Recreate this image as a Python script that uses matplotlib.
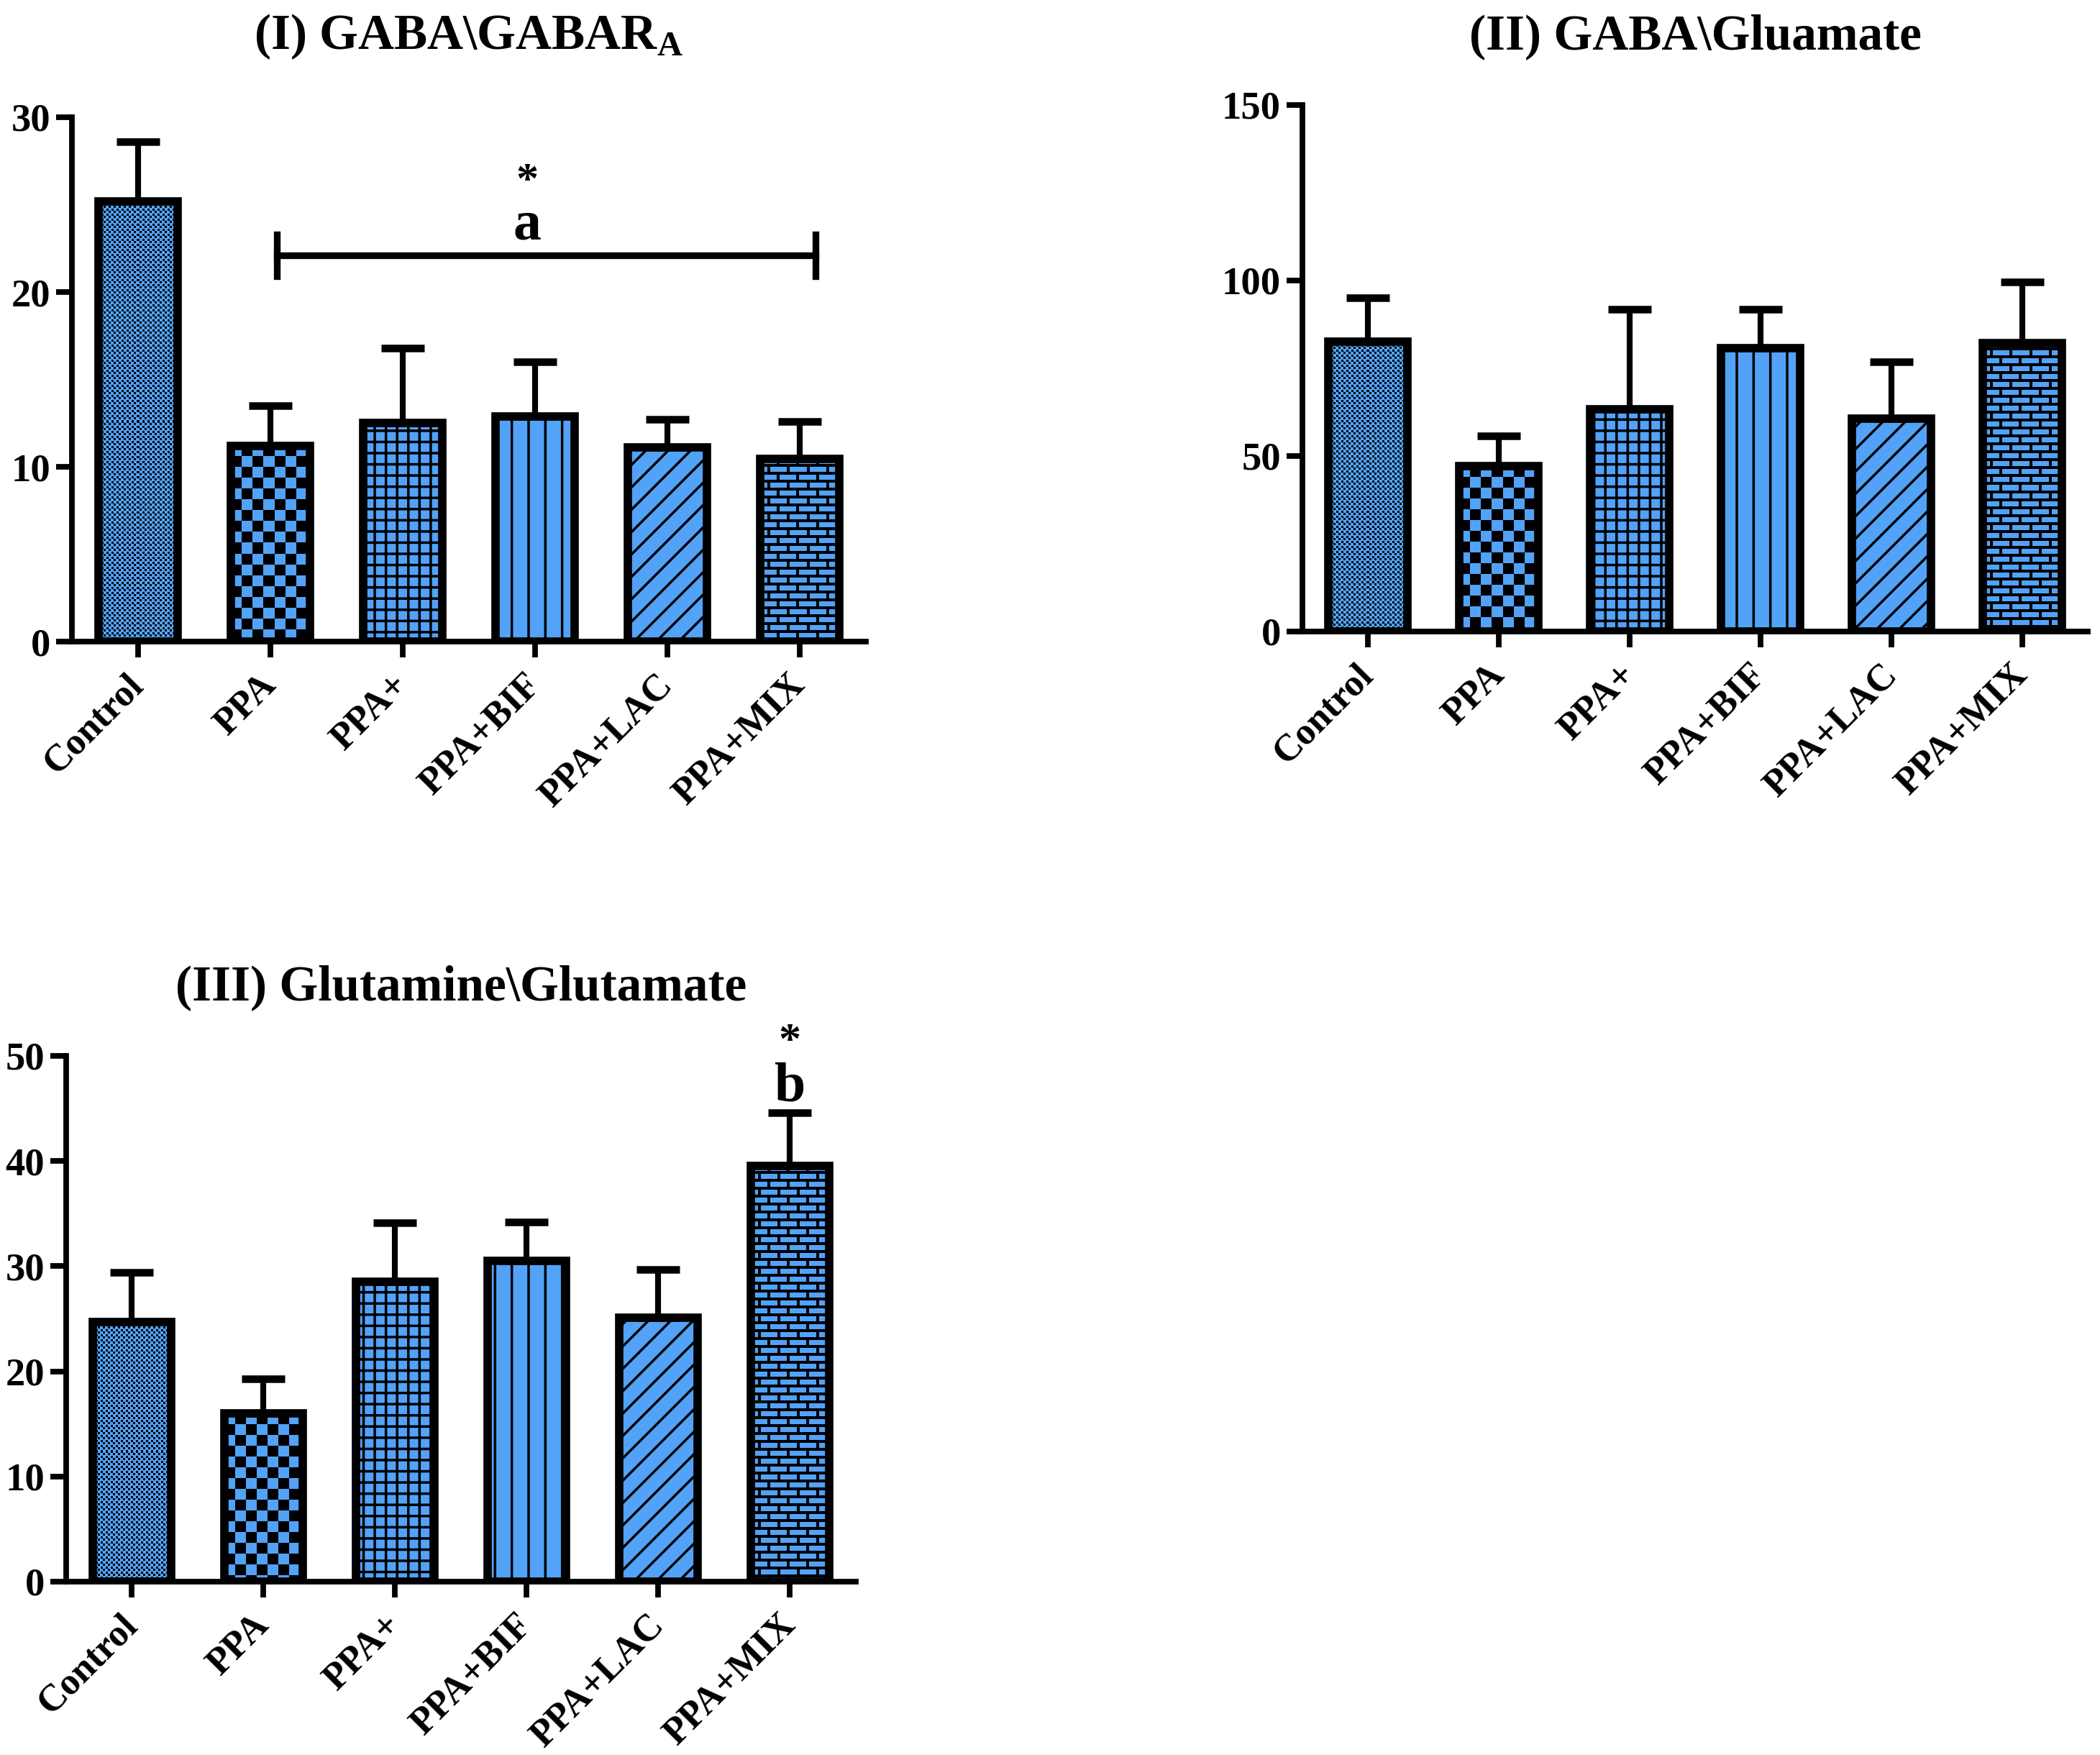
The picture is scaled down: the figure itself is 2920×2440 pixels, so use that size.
import matplotlib
matplotlib.use("Agg")
import matplotlib.pyplot as plt
import matplotlib.transforms as mtransforms
from matplotlib.colors import ListedColormap
import numpy as np

plt.rcParams['font.family'] = ['Liberation Serif', 'DejaVu Serif']
plt.rcParams['font.weight'] = 'bold'
plt.rcParams['mathtext.fontset'] = 'custom'
plt.rcParams['mathtext.rm'] = 'Liberation Serif:bold'
plt.rcParams['mathtext.default'] = 'regular'
plt.rcParams['hatch.linewidth'] = 0.9

groups = ['Control', 'PPA', 'PPA+', 'PPA+BIF', 'PPA+LAC', 'PPA+MIX']

# (I) GABA/GABAR_A
gaba_gabar_mean = [25.2, 11.2, 12.5, 12.9, 11.1, 10.45]
gaba_gabar_sem = [3.4, 2.3, 4.3, 3.1, 1.6, 2.15]

# (II) GABA/Glutamate
gaba_glu_mean = [82.5, 47.1, 63.4, 80.7, 60.7, 82.2]
gaba_glu_sem = [12.5, 8.6, 28.3, 11.0, 16.1, 17.3]

# (III) Glutamine/Glutamate
gln_glu_mean = [24.7, 16.0, 28.5, 30.5, 25.1, 39.5]
gln_glu_sem = [4.7, 3.3, 5.6, 3.7, 4.6, 5.1]

BLUE = '#52A2F8'
DPI = 280
BAR_W = 0.6
pattern_cmap = ListedColormap([BLUE, 'black'])

# fill style per group: ('img', kind) for pixel patterns, ('hatch', code) for mpl hatches
styles = [('img', 'fine'), ('img', 'checker'), ('hatch', '+++'),
          ('hatch', '||'), ('hatch', '///'), ('img', 'brick')]


def make_pattern(kind, h, w):
    yy, xx = np.indices((h, w))
    if kind == 'fine':
        # small black dots on a staggered grid
        a = (xx % 7 < 3) & (yy % 7 < 3)
        b = ((xx + 3) % 7 < 3) & ((yy + 3) % 7 < 3)
        return (a | b).astype(float)
    if kind == 'checker':
        c = 15
        return ((yy // c + xx // c) % 2).astype(float)
    # brick
    row, mortar, length, joint = 11, 4, 27, 4
    rows = yy // row
    in_mortar = (yy % row) >= row - mortar
    shift = (rows % 2) * (length // 2)
    in_joint = ((xx + shift) % length) >= length - joint
    return (in_mortar | in_joint).astype(float)


def panel(fig, rect, title, means, sems, ylim, yticks, title_pad):
    ax = fig.add_axes(rect)
    x = np.arange(len(groups))
    ax.set_xlim(-0.5, len(groups) - 0.5)
    ax.set_ylim(*ylim)

    bars = ax.bar(x, means, width=BAR_W, color=BLUE, edgecolor='black',
                  linewidth=0, zorder=1)
    for b, (kind, code) in zip(bars, styles):
        if kind == 'hatch':
            b.set_hatch(code)
            continue
        x0, y0 = b.get_x(), b.get_y()
        x1, y1 = x0 + b.get_width(), y0 + b.get_height()
        p0, p1 = ax.transData.transform([(x0, y0), (x1, y1)])
        w = int(round(abs(p1[0] - p0[0])))
        h = int(round(abs(p1[1] - p0[1])))
        im = ax.imshow(make_pattern(code, h, w), cmap=pattern_cmap, vmin=0, vmax=1,
                       extent=(x0, x1, y0, y1), aspect='auto',
                       interpolation='nearest', zorder=1.5)
        im.set_clip_path(b)

    ax.errorbar(x, means, yerr=[np.zeros(len(means)), sems], fmt='none',
                ecolor='black', elinewidth=2.1, capsize=7.8, capthick=2.7, zorder=2)
    ax.bar(x, means, width=BAR_W, facecolor='none', edgecolor='black',
           linewidth=3.0, zorder=3)

    ax.set_xlim(-0.5, len(groups) - 0.5)
    ax.set_ylim(*ylim)
    ax.set_yticks(yticks)
    ax.set_xticks(x)
    ax.set_xticklabels(groups, rotation=45, ha='right', va='center',
                       rotation_mode='anchor', fontsize=13.5, fontweight='bold')
    offset = mtransforms.ScaledTranslation(11 / 72, -4 / 72, fig.dpi_scale_trans)
    for lab in ax.get_xticklabels():
        lab.set_transform(lab.get_transform() + offset)
    ax.tick_params(axis='both', width=2, length=5.7)
    ax.tick_params(axis='y', labelsize=14, pad=2)
    ax.tick_params(axis='x', pad=8)
    for s in ['top', 'right']:
        ax.spines[s].set_visible(False)
    for s in ['left', 'bottom']:
        ax.spines[s].set_linewidth(2)
    ax.set_title(title, fontsize=17.8, fontweight='bold', pad=title_pad)
    return ax


fig = plt.figure(figsize=(2920 / DPI, 2440 / DPI), dpi=DPI)

ax1 = panel(fig, [0.0342, 0.6344, 0.3781, 0.2988], r'(I) GABA\GABAR$_\mathregular{A}$',
            gaba_gabar_mean, gaba_gabar_sem, (0, 30), [0, 10, 20, 30], 24.5)
ax2 = panel(fig, [0.6202, 0.6402, 0.3740, 0.3000], r'(II) GABA\Gluamate',
            gaba_glu_mean, gaba_glu_sem, (0, 150), [0, 50, 100, 150], 20)
ax3 = panel(fig, [0.0315, 0.0988, 0.3760, 0.2996], r'(III) Glutamine\Glutamate',
            gln_glu_mean, gln_glu_sem, (0, 50), [0, 10, 20, 30, 40, 50], 20)

# significance bracket in panel I
bracket_x = [1.05, 5.12]
bracket_y = 22.1
ax1.plot(bracket_x, [bracket_y, bracket_y], color='black', lw=2.4, zorder=4)
for bx in bracket_x:
    ax1.plot([bx, bx], [bracket_y - 1.2, bracket_y + 1.2], color='black', lw=2.4, zorder=4)
ax1.text(2.94, 23.8, 'a', ha='center', va='center', fontsize=20, fontweight='bold')
ax1.text(2.94, 26.3, '*', ha='center', va='center', fontsize=16, fontweight='bold')

# significance mark in panel III
ax3.text(5, 47.0, 'b', ha='center', va='center', fontsize=20, fontweight='bold',
         clip_on=False)
ax3.text(5, 51.3, '*', ha='center', va='center', fontsize=16, fontweight='bold',
         clip_on=False)

fig.savefig('out.png', dpi=DPI)
